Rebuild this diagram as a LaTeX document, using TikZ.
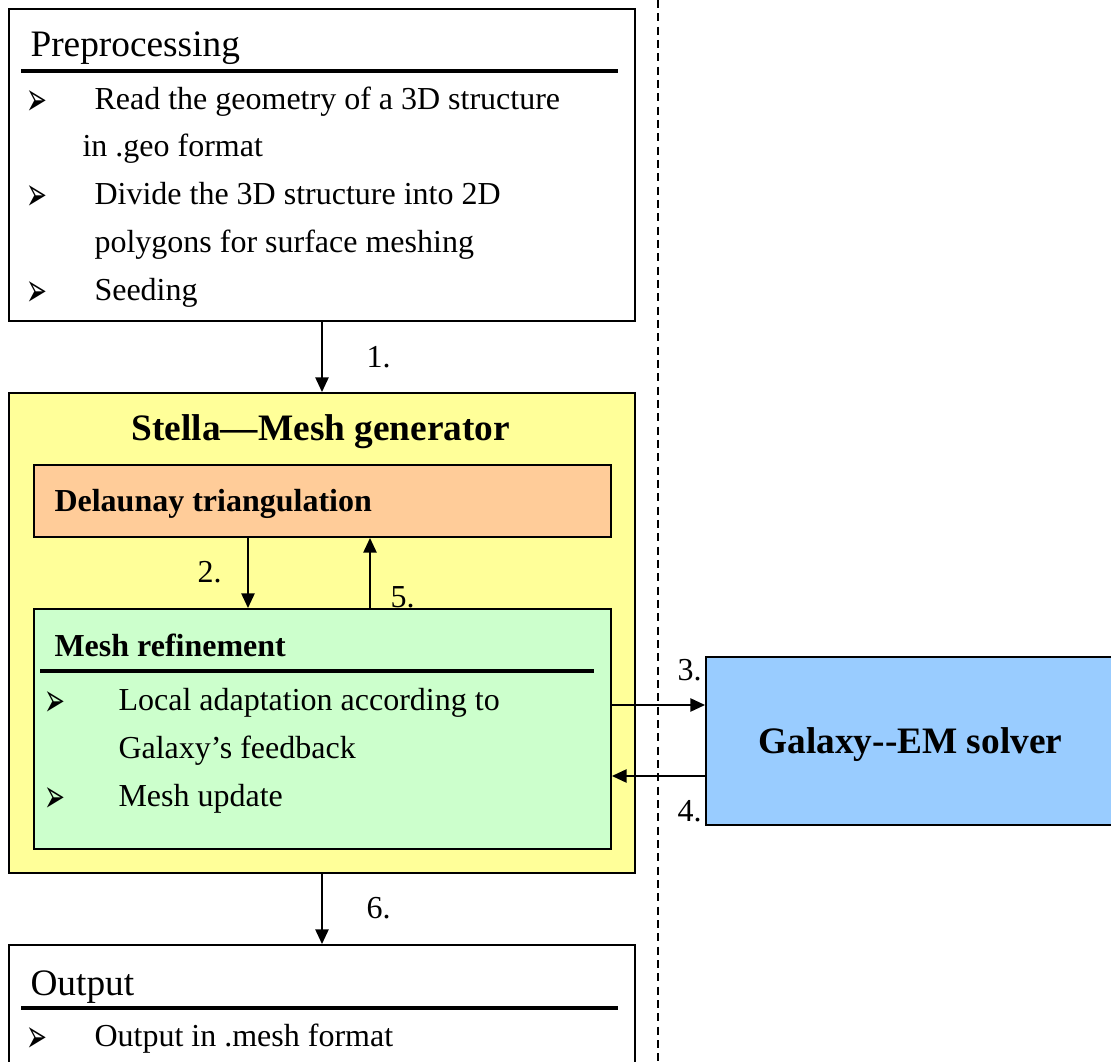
\documentclass[tikz,border=0pt]{standalone}
\usepackage{fontspec}
\setmainfont{Liberation Serif}
\newfontfamily\dingfont{DejaVu Sans}
\usetikzlibrary{arrows.meta}
\newcommand{\pw}[1]{#1*0.375pt}
\newcommand{\arrowbullet}{\scalebox{0.72}[1.35]{➢}}
\definecolor{stellayellow}{HTML}{FFFF99}
\definecolor{delorange}{HTML}{FFCC99}
\definecolor{meshgreen}{HTML}{CCFFCC}
\definecolor{galblue}{HTML}{99CCFF}

\begin{document}
\begin{tikzpicture}[x=0.375pt, y=-0.375pt,
  box/.style={draw=black, line width=0.75pt, inner sep=0, anchor=north west},
  txt/.style={inner sep=0, anchor=base west, font=\fontsize{12}{14}\selectfont},
  ttl/.style={inner sep=0, anchor=base west, font=\fontsize{14}{16}\selectfont},
  bttl/.style={inner sep=0, font=\fontsize{14}{16}\selectfont\bfseries},
  btxt/.style={inner sep=0, anchor=base west, font=\fontsize{12}{14}\selectfont\bfseries},
  bul/.style={inner sep=0, anchor=base west, font=\dingfont\bfseries\fontsize{13}{14}\selectfont},
  arr/.style={line width=0.6pt, -{Triangle[length=5.5pt, width=5pt]}},
  hrule/.style={line width=1.5pt}]

\useasboundingbox (0,0) rectangle (1111,1062);
\fill[white] (0,0) rectangle (1111,1062);

% separator between mesher and solver
\draw[line width=0.4pt, dash pattern=on 3pt off 2pt] (658,0) -- (658,1062);

% ---------------- Preprocessing ----------------
\node[box, fill=white, minimum width=\pw{626}, minimum height=\pw{312}] (pre) at (8,8) {};
\node[ttl] (pretitle) at (30,57) {Preprocessing};
\draw[hrule] (21,71) -- (618,71);
\node[bul] (pb1) at (26,116) {\arrowbullet};
\node[txt] (pt1) at (94,110) {Read the geometry of a 3D structure};
\node[txt] (pt1b) at (82,157) {in .geo format};
\node[bul] (pb2) at (26,211) {\arrowbullet};
\node[txt] (pt2) at (94,205) {Divide the 3D structure into 2D};
\node[txt] (pt2b) at (94,253) {polygons for surface meshing};
\node[bul] (pb3) at (26,307) {\arrowbullet};
\node[txt] (pt3) at (94,301) {Seeding};

% ---------------- Stella ----------------
\node[box, fill=stellayellow, minimum width=\pw{626}, minimum height=\pw{480}] (stella) at (8,392) {};
\node[bttl, anchor=base] (stitle) at (321,441) {Stella—Mesh generator};

\node[box, fill=delorange, minimum width=\pw{577}, minimum height=\pw{72}] (del) at (33,464) {};
\node[btxt] (deltext) at (54,511) {Delaunay triangulation};

\node[box, fill=meshgreen, minimum width=\pw{577}, minimum height=\pw{240}] (mesh) at (33,608) {};
\node[btxt] (meshtitle) at (54,656) {Mesh refinement};
\draw[hrule] (40,671) -- (594,671);
\node[bul] (mb1) at (44,716) {\arrowbullet};
\node[txt] (mt1) at (118,710) {Local adaptation according to};
\node[txt] (mt1b) at (118,758) {Galaxy’s feedback};
\node[bul] (mb2) at (44,812) {\arrowbullet};
\node[txt] (mt2) at (118,806) {Mesh update};

% ---------------- Galaxy ----------------
\node[box, fill=galblue, minimum width=\pw{420}, minimum height=\pw{168}] (gal) at (705,656) {};
\node[bttl, anchor=base west] (galtext) at (758,753) {Galaxy{-}{-}EM solver};

% ---------------- Output ----------------
\node[box, fill=white, minimum width=\pw{626}, minimum height=\pw{140}] (out) at (8,944) {};
\node[ttl] (outtitle) at (30,995) {Output};
\draw[hrule] (21,1008) -- (618,1008);
\node[bul] (ob1) at (26,1052) {\arrowbullet};
\node[txt] (ot1) at (94,1046) {Output in .mesh format};

% ---------------- connectors ----------------
\coordinate (c2) at (248,0);
\coordinate (c5) at (370,0);
\coordinate (c3) at (0,705);
\coordinate (c4) at (0,776);

\draw[arr] (pre.south) -- (stella.north);
\draw[arr] (del.south -| c2) -- (mesh.north -| c2);
\draw[arr] (mesh.north -| c5) -- (del.south -| c5);
\draw[arr] (mesh.east |- c3) -- (gal.west |- c3);
\draw[arr] (gal.west |- c4) -- (mesh.east |- c4);
\draw[arr] (stella.south) -- (out.north);

\node[txt] (l1) at (366,368) {1.};
\node[txt] (l2) at (197,583) {2.};
\node[txt] (l5) at (390,608) {5.};
\node[txt] (l3) at (677,680) {3.};
\node[txt] (l4) at (677,821) {4.};
\node[txt] (l6) at (366,918) {6.};
\end{tikzpicture}
\end{document}
